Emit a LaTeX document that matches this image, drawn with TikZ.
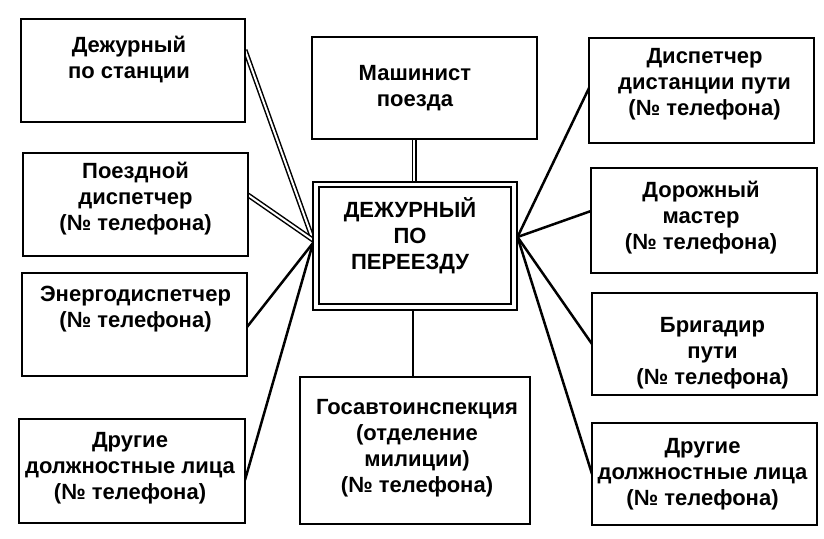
\documentclass[tikz,border=0pt]{standalone}
\usepackage{fontspec}
\setmainfont{Liberation Sans}
\usetikzlibrary{backgrounds}
\begin{document}
\begin{tikzpicture}[x=1pt,y=-1pt,
  box/.style={draw, line width=2.4pt, rectangle, inner sep=0pt, outer sep=0pt, fill=white},
  dbox/.style={box, line width=2.2pt, double, double distance=3.5pt},
  txt/.style={font=\fontsize{22}{26}\selectfont\bfseries, align=center, inner sep=0pt},
  link/.style={line width=2.5pt},
  dlink/.style={line width=1.5pt, double=white, double distance=2pt},
]
\useasboundingbox (0,0) rectangle (824,538);

% left column
\node[box, minimum width=224pt, minimum height=103pt,
  label={[txt, xshift=-4pt, yshift=11pt]center:{Дежурный\\по станции}}] (l1) at (133,70.5) {};
\node[box, minimum width=225pt, minimum height=103pt,
  label={[txt, xshift=0pt, yshift=6pt]center:{Поездной\\диспетчер\\(№ телефона)}}] (l2) at (135.5,204.5) {};
\node[box, minimum width=225pt, minimum height=103pt,
  label={[txt, xshift=1pt, yshift=15pt]center:{Энергодиспетчер\\(№ телефона)}}] (l3) at (134.5,324.5) {};
\node[box, minimum width=226pt, minimum height=104pt,
  label={[txt, xshift=-2pt, yshift=3pt]center:{Другие\\должностные лица\\(№ телефона)}}] (l4) at (132,471) {};

% centre column
\node[box, minimum width=225pt, minimum height=102pt,
  label={[txt, xshift=-9.5pt, yshift=0pt]center:{Машинист\\поезда}}] (t) at (424.5,88) {};
\node[dbox, minimum width=198pt, minimum height=122.5pt,
  label={[txt, xshift=-5pt, yshift=10pt]center:{ДЕЖУРНЫЙ\\ПО\\ПЕРЕЕЗДУ}}] (c) at (415,245.75) {};
\node[box, minimum width=230pt, minimum height=147pt,
  label={[txt, xshift=2pt, yshift=2.5pt]center:{Госавтоинспекция\\(отделение\\милиции)\\(№ телефона)}}] (b) at (415,450.5) {};

% right column
\node[box, minimum width=225pt, minimum height=105pt,
  label={[txt, xshift=3pt, yshift=6pt]center:{Диспетчер\\дистанции пути\\(№ телефона)}}] (r1) at (701.5,90.5) {};
\node[box, minimum width=226pt, minimum height=105pt,
  label={[txt, xshift=-3pt, yshift=2.5pt]center:{Дорожный\\мастер\\(№ телефона)}}] (r2) at (704,220.5) {};
\node[box, minimum width=225pt, minimum height=102pt,
  label={[txt, xshift=8pt, yshift=-9pt]center:{Бригадир\\пути\\(№ телефона)}}] (r3) at (704.5,344) {};
\node[box, minimum width=225pt, minimum height=102pt,
  label={[txt, xshift=-2pt, yshift=0pt]center:{Другие\\должностные лица\\(№ телефона)}}] (r4) at (704.5,474) {};

\coordinate (cl1) at ([xshift=-3pt, yshift=5.75pt]c.west);
\coordinate (cl2) at ([xshift=-3pt, yshift=2.75pt]c.west);
\coordinate (cr) at ([xshift=3.5pt, yshift=8.75pt]c.east);

\begin{scope}[on background layer]
  \fill[white] (0,0) rectangle (824,538);
  \draw[dlink] ([yshift=20.5pt]l1.east) -- (cl1);
  \draw[dlink] ([yshift=9.5pt]l2.east) -- (cl1);
  \draw[link] ([yshift=-2.5pt]l3.east) -- (cl2);
  \draw[link] ([yshift=-9pt]l4.east) -- (cl2);
  \draw[dlink] ([xshift=-10.5pt]t.south) -- ([xshift=-10.5pt]t.south |- c.north);
  \draw[link] ([xshift=-2pt]c.south) -- ([xshift=-2pt]b.north);
  \draw[link] ([yshift=2.5pt]r1.west) -- (cr);
  \draw[link] ([yshift=9.5pt]r2.west) -- (cr);
  \draw[link] (r3.west) -- (cr);
  \draw[link] (r4.west) -- (cr);
\end{scope}
\end{tikzpicture}
\end{document}
